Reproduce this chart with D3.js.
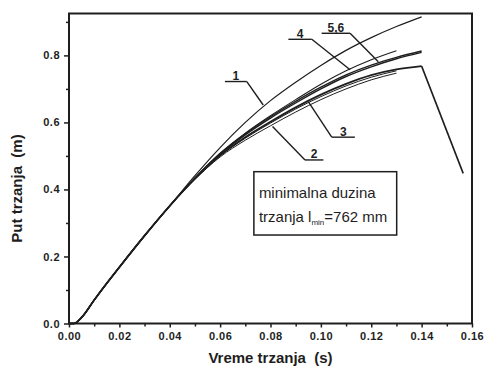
<!DOCTYPE html>
<html>
<head>
<meta charset="utf-8">
<script src="https://cdn.jsdelivr.net/npm/d3@7/dist/d3.min.js"></script>
<style>
  html, body { margin: 0; padding: 0; background: #fff; }
  svg { display: block; font-family: "Liberation Sans", Arial, sans-serif; }
</style>
</head>
<body>
<svg id="chart" width="484" height="376"></svg>
<script>
// ---------- data ----------
const tGrid = [0, 0.002, 0.005, 0.01, 0.015, 0.02, 0.03, 0.04, 0.05, 0.06, 0.07, 0.08, 0.09, 0.10, 0.11, 0.12, 0.13, 0.14];
const early = [0, 0, 0.018, 0.07, 0.12, 0.168, 0.262, 0.351];

const curve1 = early.concat([0.441, 0.525, 0.600, 0.665, 0.72, 0.77, 0.815, 0.853, 0.886, 0.915]);
const curve5 = early.concat([0.434, 0.507, 0.566, 0.617, 0.663, 0.705, 0.742, 0.771, 0.794, 0.813]);
const curve6 = early.concat([0.433, 0.505, 0.563, 0.613, 0.658, 0.700, 0.737, 0.766, 0.790, 0.809]);
const curve4 = early.concat([0.434, 0.508, 0.568, 0.620, 0.668, 0.714, 0.754, 0.787, 0.814]);
const curve7 = early.concat([0.432, 0.502, 0.556, 0.602, 0.645, 0.683, 0.715, 0.741, 0.758, 0.768]);
const curve7Drop = [[0.14, 0.768], [0.1565, 0.448]];
const curve3 = early.concat([0.431, 0.500, 0.553, 0.598, 0.640, 0.677, 0.709, 0.735, 0.754]);
const curve2 = early.concat([0.430, 0.497, 0.547, 0.590, 0.631, 0.668, 0.700, 0.727, 0.747]);

const xTicks = [0, 0.02, 0.04, 0.06, 0.08, 0.10, 0.12, 0.14, 0.16];
const xMinor = [0.01, 0.03, 0.05, 0.07, 0.09, 0.11, 0.13, 0.15];
const yTicks = [0, 0.2, 0.4, 0.6, 0.8];
const yMinor = [0.1, 0.3, 0.5, 0.7, 0.9];

// label annotations in data units: text, underline [x0,x1,y], leader end [x,y], leader start side
const labels = [
  { text: "1",   ux0: 0.0619, ux1: 0.0706, uy: 0.722, lx: 0.0771, ly: 0.652, from: "right" },
  { text: "4",   ux0: 0.0871, ux1: 0.0964, uy: 0.848, lx: 0.1116, ly: 0.757, from: "right" },
  { text: "5,6", ux0: 0.1003, ux1: 0.1116, uy: 0.866, lx: 0.1228, ly: 0.781, from: "right" },
  { text: "3",   ux0: 0.1043, ux1: 0.1135, uy: 0.556, lx: 0.0950, ly: 0.662, from: "left" },
  { text: "2",   ux0: 0.0937, ux1: 0.1010, uy: 0.488, lx: 0.0808, ly: 0.588, from: "left" }
];
const noteBox = { x0: 0.0734, x1: 0.1301, y0: 0.264, y1: 0.453 };
const noteLine1 = "minimalna duzina";
const noteLine2a = "trzanja l";
const noteLine2sub = "min";
const noteLine2b = "=762 mm";

// ---------- layout ----------
const svg = d3.select("#chart");
const ink = "#1e1e1e";
const x = d3.scaleLinear().domain([0, 0.16]).range([69, 472]);
const y = d3.scaleLinear().domain([0, 0.925]).range([323.5, 13.5]);

const toPts = (vals) => vals.map((v, i) => [tGrid[i], v]);
const line = d3.line().x(d => x(d[0])).y(d => y(d[1])).curve(d3.curveMonotoneX);
const straight = d3.line().x(d => x(d[0])).y(d => y(d[1]));

const series = [
  { v: curve2, w: 1.0 },
  { v: curve3, w: 1.0 },
  { v: curve7, w: 1.8 },
  { v: curve6, w: 1.4 },
  { v: curve5, w: 1.4 },
  { v: curve4, w: 1.1 },
  { v: curve1, w: 1.2 }
];
series.forEach(s => {
  svg.append("path").attr("d", line(toPts(s.v)))
    .attr("fill", "none").attr("stroke", ink).attr("stroke-width", s.w);
});
svg.append("path").attr("d", straight(curve7Drop))
  .attr("fill", "none").attr("stroke", ink).attr("stroke-width", 1.6);

// axes
const xAxis = svg.append("g").attr("transform", `translate(0,${y(0)})`)
  .call(d3.axisBottom(x).tickValues(xTicks).tickFormat(d3.format(".2f")).tickSize(4).tickSizeOuter(0).tickPadding(5));
const xAxisMinor = svg.append("g").attr("transform", `translate(0,${y(0)})`)
  .call(d3.axisBottom(x).tickValues(xMinor).tickFormat("").tickSize(3).tickSizeOuter(0));
const yAxis = svg.append("g").attr("transform", `translate(${x(0)},0)`)
  .call(d3.axisLeft(y).tickValues(yTicks).tickFormat(d3.format(".1f")).tickSize(5).tickSizeOuter(0).tickPadding(4));
const yAxisMinor = svg.append("g").attr("transform", `translate(${x(0)},0)`)
  .call(d3.axisLeft(y).tickValues(yMinor).tickFormat("").tickSize(3).tickSizeOuter(0));
[xAxis, xAxisMinor, yAxis, yAxisMinor].forEach(g => {
  g.select(".domain").remove();
  g.selectAll("line").attr("stroke", ink).attr("stroke-width", 1.5);
  g.selectAll("text").attr("fill", ink).attr("font-size", 11).attr("font-weight", "bold")
    .attr("font-family", "'Liberation Sans', Arial, sans-serif").attr("letter-spacing", 0.5);
});

// frame
svg.append("rect").attr("x", x(0)).attr("y", y(0.925))
  .attr("width", x(0.16) - x(0)).attr("height", y(0) - y(0.925))
  .attr("fill", "none").attr("stroke", ink).attr("stroke-width", 2);

// axis titles
svg.append("text").attr("x", (x(0) + x(0.16)) / 2).attr("y", 363)
  .attr("text-anchor", "middle").attr("font-size", 15).attr("font-weight", "bold").attr("fill", ink)
  .attr("xml:space", "preserve")
  .text("Vreme trzanja  (s)");
svg.append("text").attr("transform", `translate(22,${(y(0) + y(0.925)) / 2 + 20}) rotate(-90)`)
  .attr("text-anchor", "middle").attr("font-size", 15).attr("font-weight", "bold").attr("fill", ink)
  .attr("xml:space", "preserve")
  .text("Put trzanja  (m)");

// labels with leaders
labels.forEach(l => {
  const ux0 = x(l.ux0), ux1 = x(l.ux1), uy = y(l.uy);
  svg.append("line").attr("x1", ux0).attr("x2", ux1).attr("y1", uy).attr("y2", uy)
    .attr("stroke", ink).attr("stroke-width", 1.4);
  const sx = l.from === "right" ? ux1 : ux0;
  svg.append("line").attr("x1", sx).attr("y1", uy).attr("x2", x(l.lx)).attr("y2", y(l.ly))
    .attr("stroke", ink).attr("stroke-width", 1.4);
  svg.append("text").attr("x", (ux0 + ux1) / 2).attr("y", uy - 1.5)
    .attr("text-anchor", "middle").attr("font-size", 12).attr("font-weight", "bold").attr("fill", ink)
    .text(l.text);
});

// note box
svg.append("rect").attr("x", x(noteBox.x0)).attr("y", y(noteBox.y1))
  .attr("width", x(noteBox.x1) - x(noteBox.x0)).attr("height", y(noteBox.y0) - y(noteBox.y1))
  .attr("fill", "#fff").attr("stroke", ink).attr("stroke-width", 1.5);
const tx = x(noteBox.x0) + 5;
svg.append("text").attr("x", tx).attr("y", 198)
  .attr("font-size", 15).attr("fill", ink).text(noteLine1);
const t2 = svg.append("text").attr("x", tx).attr("y", 222).attr("font-size", 15).attr("fill", ink);
t2.append("tspan").attr("fill", ink).text(noteLine2a);
t2.append("tspan").attr("fill", ink).attr("font-size", 8).attr("dy", 3).text(noteLine2sub);
t2.append("tspan").attr("fill", ink).attr("dy", -3).text(noteLine2b);
</script>
</body>
</html>
